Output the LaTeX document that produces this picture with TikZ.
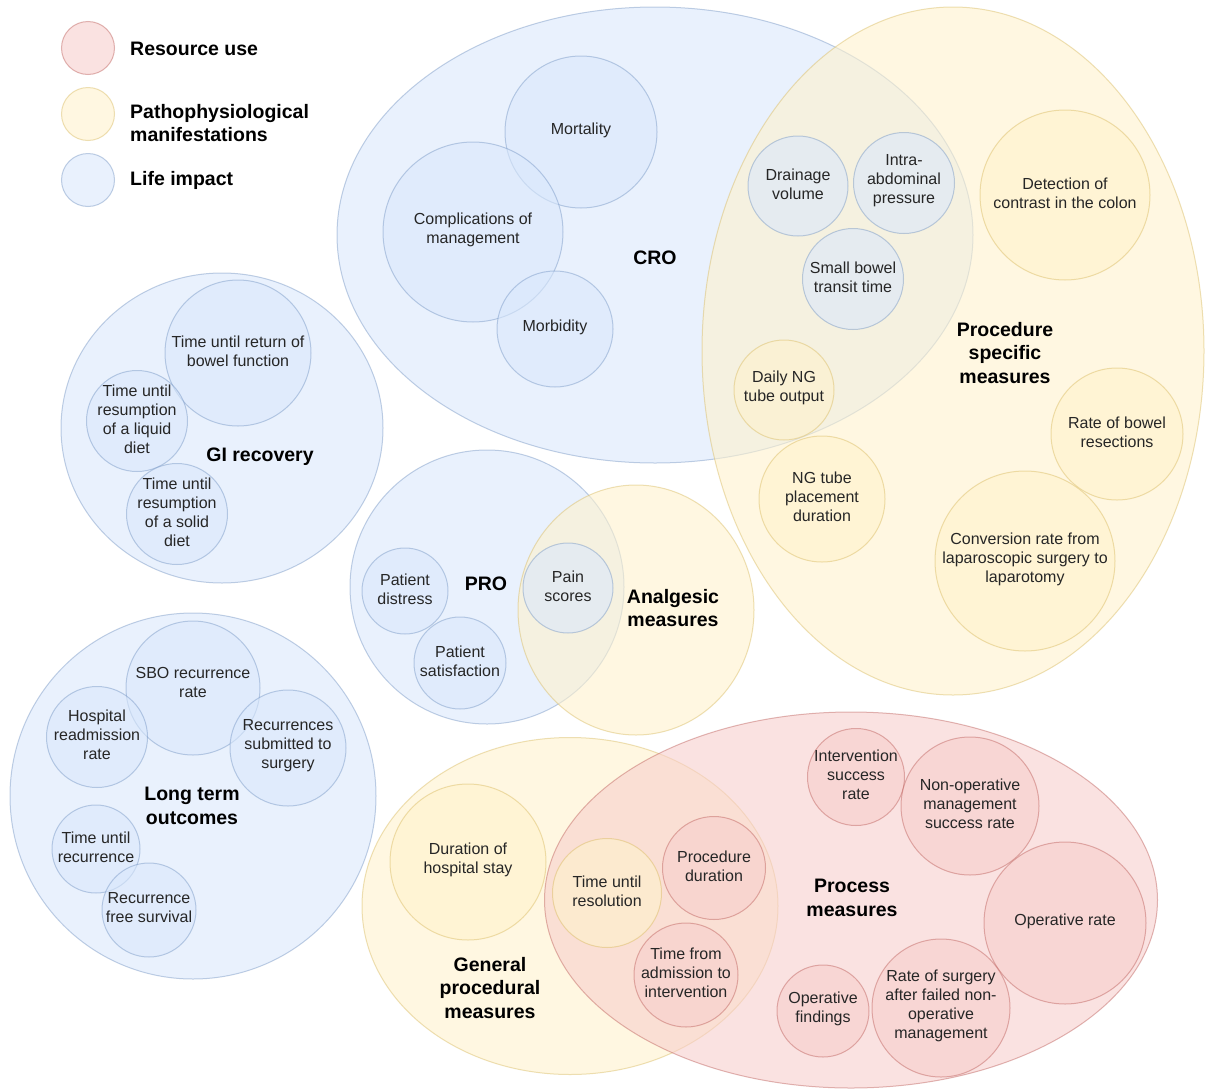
\documentclass[tikz,border=0pt]{standalone}
\usepackage{fontspec}
\setmainfont{Liberation Sans}
\usetikzlibrary{shapes.geometric}
\definecolor{blueF}{HTML}{DAE8FC}
\definecolor{blueS}{HTML}{6C8EBF}
\definecolor{yelF}{HTML}{FFF2CC}
\definecolor{yelS}{HTML}{D6B656}
\definecolor{redF}{HTML}{F8CECC}
\definecolor{redS}{HTML}{B85450}
\definecolor{txt}{HTML}{262626}
\newcommand\smallfnt{\fontsize{16}{19}\selectfont}
\newcommand\bigfnt{\fontsize{19.5}{23.5}\selectfont\bfseries}
\tikzset{
  shp/.style={inner sep=0pt, outer sep=0pt, line width=1pt, fill opacity=0.58, draw opacity=0.42},
  bc/.style={shp, circle, draw=blueS, fill=blueF},
  yc/.style={shp, circle, draw=yelS, fill=yelF},
  rc/.style={shp, circle, draw=redS, fill=redF},
  be/.style={shp, ellipse, draw=blueS, fill=blueF},
  ye/.style={shp, ellipse, draw=yelS, fill=yelF},
  re/.style={shp, ellipse, draw=redS, fill=redF},
  lab/.style={inner sep=0pt, align=center, font=\smallfnt, text=txt, yshift=2pt},
  ttl/.style={inner sep=0pt, align=center, font=\bigfnt, text=black},
  leg/.style={inner sep=0pt, align=left, font=\bigfnt, text=black, anchor=west},
}
\begin{document}
\begin{tikzpicture}[x=1pt,y=-1pt]
\useasboundingbox (0,0) rectangle (1208,1090);
\fill[white] (0,0) rectangle (1208,1090);

% legend
\node[rc, minimum size=53] (lr) at (88,48) {};
\node[yc, minimum size=53] (ly) at (88,114) {};
\node[bc, minimum size=53] (lb) at (88,180) {};
\node[leg] (lrT) at (130,49) {Resource use};
\node[leg] (lyT) at (130,123) {Pathophysiological\\manifestations};
\node[leg] (lbT) at (130,180) {Life impact};

% big groups
\node[be, minimum width=636, minimum height=456] (cro) at (655,235) {};
\node[ye, minimum width=502, minimum height=688] (proc) at (953,351) {};
\node[be, minimum width=322, minimum height=310] (gi) at (222,428) {};
\node[bc, minimum size=274] (pro) at (487,587) {};
\node[ye, minimum width=236, minimum height=250] (anal) at (636,610) {};
\node[bc, minimum size=366] (lto) at (193,796) {};
\node[ye, minimum width=416, minimum height=337] (gen) at (570,906) {};
\node[re, minimum width=613, minimum height=376] (pm) at (851,900) {};

% titles
\node[ttl] (croT) at (655,258) {CRO};
\node[ttl] (procT) at (1005,353) {Procedure\\specific\\measures};
\node[ttl] (giT) at (260,457) {GI recovery};
\node[ttl] (proT) at (486,584) {PRO};
\node[ttl] (analT) at (673,608) {Analgesic\\measures};
\node[ttl] (ltoT) at (192,806) {Long term\\outcomes};
\node[ttl] (genT) at (490,988) {General\\procedural\\measures};
\node[ttl] (pmT) at (852,898) {Process\\measures};

% CRO
\node[bc, minimum size=152] (mort) at (581,132) {};
\node[lab] (mortT) at (mort.center) {Mortality};
\node[bc, minimum size=180] (comp) at (473,232) {};
\node[lab] (compT) at (comp.center) {Complications of\\management};
\node[bc, minimum size=116] (morb) at (555,329) {};
\node[lab] (morbT) at (morb.center) {Morbidity};

% Procedure specific
\node[bc, minimum size=100] (drain) at (798,186) {};
\node[lab] (drainT) at (drain.center) {Drainage\\volume};
\node[bc, minimum size=101] (iap) at (904,183) {};
\node[lab] (iapT) at (iap.center) {Intra-\\abdominal\\pressure};
\node[bc, minimum size=101] (sbt) at (853,279) {};
\node[lab] (sbtT) at (sbt.center) {Small bowel\\transit time};
\node[yc, minimum size=170] (det) at (1065,195) {};
\node[lab] (detT) at (det.center) {Detection of\\contrast in the colon};
\node[yc, minimum size=100] (ngo) at (784,390) {};
\node[lab] (ngoT) at (ngo.center) {Daily NG\\tube output};
\node[yc, minimum size=126] (ngp) at (822,499) {};
\node[lab] (ngpT) at (ngp.center) {NG tube\\placement\\duration};
\node[yc, minimum size=132] (rbr) at (1117,434) {};
\node[lab] (rbrT) at (rbr.center) {Rate of bowel\\resections};
\node[yc, minimum size=180] (conv) at (1025,561) {};
\node[lab] (convT) at (conv.center) {Conversion rate from\\laparoscopic surgery to\\laparotomy};

% GI recovery
\node[bc, minimum size=146] (rbf) at (238,353) {};
\node[lab] (rbfT) at (rbf.center) {Time until return of\\bowel function};
\node[bc, minimum size=101] (liq) at (137,421) {};
\node[lab] (liqT) at (liq.center) {Time until\\resumption\\of a liquid\\diet};
\node[bc, minimum size=101] (sol) at (177,514) {};
\node[lab] (solT) at (sol.center) {Time until\\resumption\\of a solid\\diet};

% PRO
\node[bc, minimum size=86] (pd) at (405,591) {};
\node[lab] (pdT) at (pd.center) {Patient\\distress};
\node[bc, minimum size=92] (ps) at (460,663) {};
\node[lab] (psT) at (ps.center) {Patient\\satisfaction};
\node[bc, minimum size=90] (pain) at (568,588) {};
\node[lab] (painT) at (pain.center) {Pain\\scores};

% Long term
\node[bc, minimum size=134] (sbo) at (193,688) {};
\node[lab, yshift=4pt] (sboT) at (sbo.center) {SBO recurrence\\rate};
\node[bc, minimum size=101] (hra) at (97,737) {};
\node[lab] (hraT) at (hra.center) {Hospital\\readmission\\rate};
\node[bc, minimum size=116] (rss) at (288,748) {};
\node[lab] (rssT) at (rss.center) {Recurrences\\submitted to\\surgery};
\node[bc, minimum size=88] (tur) at (96,849) {};
\node[lab] (turT) at (tur.center) {Time until\\recurrence};
\node[bc, minimum size=94] (rfs) at (149,910) {};
\node[lab] (rfsT) at (rfs.center) {Recurrence\\free survival};

% General procedural
\node[yc, minimum size=156] (dhs) at (468,862) {};
\node[lab] (dhsT) at (dhs.center) {Duration of\\hospital stay};
\node[yc, minimum size=109] (tres) at (607,893) {};
\node[lab] (tresT) at (tres.center) {Time until\\resolution};
\node[rc, minimum size=103] (pdur) at (714,868) {};
\node[lab] (pdurT) at (pdur.center) {Procedure\\duration};
\node[rc, minimum size=104] (tai) at (686,975) {};
\node[lab] (taiT) at (tai.center) {Time from\\admission to\\intervention};

% Process measures
\node[rc, minimum size=97] (isr) at (856,777) {};
\node[lab] (isrT) at (isr.center) {Intervention\\success\\rate};
\node[rc, minimum size=138] (nom) at (970,806) {};
\node[lab] (nomT) at (nom.center) {Non-operative\\management\\success rate};
\node[rc, minimum size=162] (opr) at (1065,923) {};
\node[lab] (oprT) at (opr.center) {Operative rate};
\node[rc, minimum size=92] (opf) at (823,1011) {};
\node[lab] (opfT) at (opf.center) {Operative\\findings};
\node[rc, minimum size=138] (rsf) at (941,1008) {};
\node[lab] (rsfT) at (rsf.center) {Rate of surgery\\after failed non-\\operative\\management};
\end{tikzpicture}
\end{document}
